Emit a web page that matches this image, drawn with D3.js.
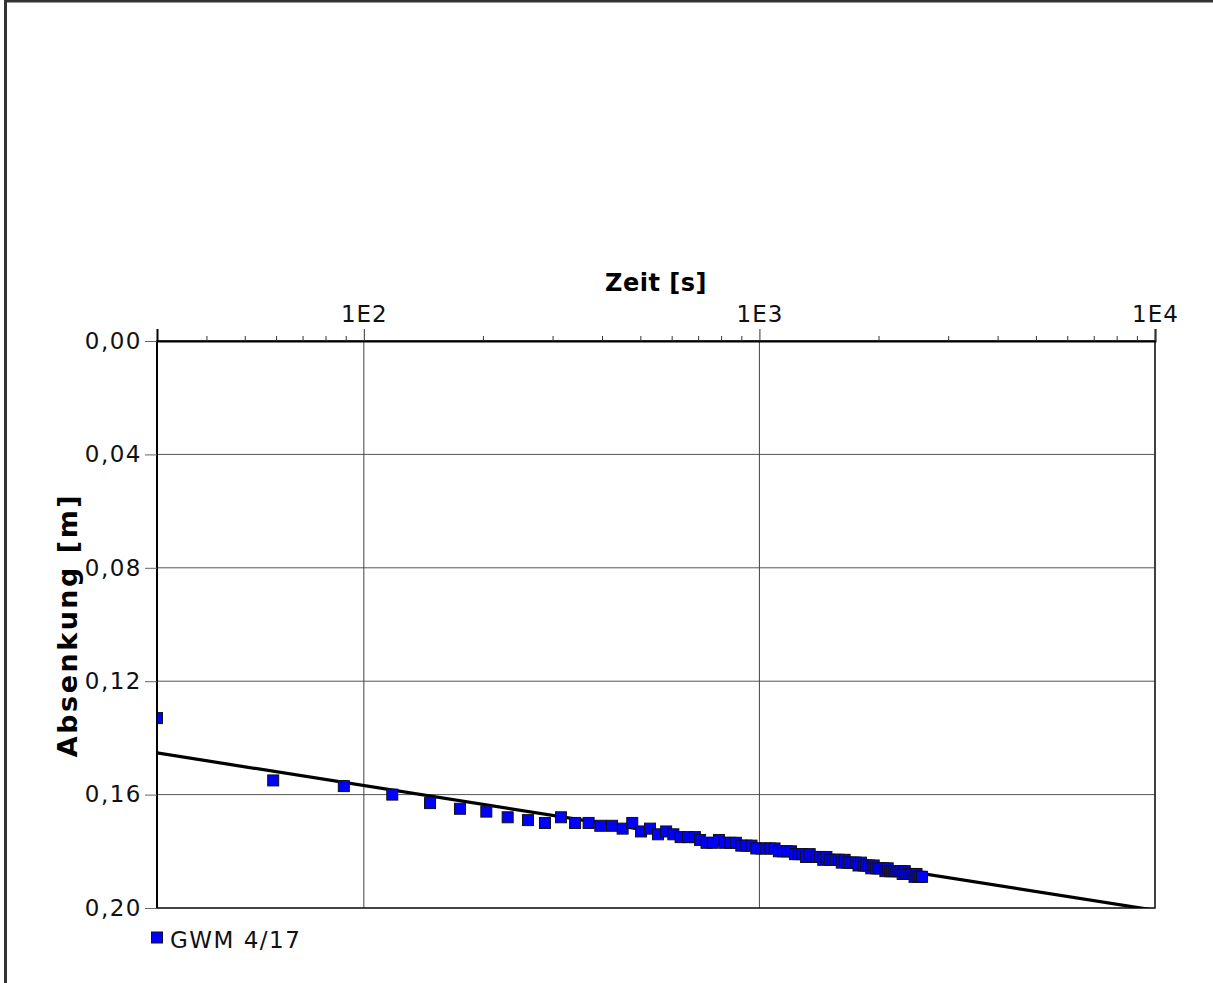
<!DOCTYPE html>
<html>
<head>
<meta charset="utf-8">
<script src="https://cdnjs.cloudflare.com/ajax/libs/d3/7.8.5/d3.min.js"></script>
<style>
  html, body { margin: 0; padding: 0; background: #fff; }
  svg { display: block; }
</style>
</head>
<body>
<svg id="chart" width="1213" height="983"></svg>
<script>
// ---- data ----
const seriesName = "GWM 4/17";
const times = [30, 59, 89, 118, 147, 175, 204, 231, 260, 287, 315, 342, 370, 396, 424, 451, 477, 502, 529, 554,
  581, 606, 632, 660, 687, 708, 735, 762, 790, 817, 845, 872, 900, 927, 955, 982, 1010, 1037, 1065, 1092,
  1120, 1147, 1175, 1202, 1230, 1257, 1285, 1312, 1340, 1367, 1395, 1422, 1450, 1477, 1505, 1532, 1560, 1587, 1615, 1642,
  1670, 1697, 1725, 1752, 1780, 1807, 1835, 1862, 1890, 1917, 1945, 1972, 2000, 2027, 2055, 2082, 2110, 2137, 2165, 2192,
  2220, 2247, 2275, 2302, 2330, 2357, 2385, 2412, 2440, 2467, 2495, 2522, 2550, 2577];
const drawdown = [0.133, 0.155, 0.157, 0.160, 0.163, 0.165, 0.166, 0.168, 0.169, 0.170, 0.168, 0.170, 0.170, 0.171, 0.171, 0.172, 0.170, 0.173, 0.172, 0.174,
  0.173, 0.174, 0.175, 0.175, 0.175, 0.176, 0.177, 0.177, 0.176, 0.177, 0.177, 0.177, 0.178, 0.178, 0.178, 0.179, 0.179, 0.179, 0.179, 0.179,
  0.180, 0.180, 0.180, 0.180, 0.181, 0.181, 0.181, 0.182, 0.181, 0.182, 0.182, 0.182, 0.183, 0.182, 0.183, 0.183, 0.183, 0.183, 0.184, 0.183,
  0.184, 0.184, 0.184, 0.184, 0.185, 0.184, 0.185, 0.185, 0.185, 0.186, 0.185, 0.186, 0.186, 0.186, 0.186, 0.187, 0.186, 0.187, 0.187, 0.187,
  0.187, 0.187, 0.187, 0.188, 0.187, 0.188, 0.188, 0.188, 0.188, 0.189, 0.188, 0.189, 0.189, 0.189];
// straight-line fit shown in the chart (end points)
const fitTimes = [30, 10000];
const fitDrawdown = [0.1453, 0.2008];

const xDomain = [30, 10000];
const yDomain = [0, 0.20];
const xMajorTicks = [100, 1000, 10000];
const xMajorLabels = ["1E2", "1E3", "1E4"];
const xMinorTicks = [40, 50, 60, 70, 80, 90, 200, 300, 400, 500, 600, 700, 800, 900,
  2000, 3000, 4000, 5000, 6000, 7000, 8000, 9000];
const yTicks = [0.00, 0.04, 0.08, 0.12, 0.16, 0.20];
const xTitle = "Zeit [s]";
const yTitle = "Absenkung [m]";

// ---- layout ----
const plot = { left: 157, right: 1155, top: 341, bottom: 908 };
const FONT = "'DejaVu Sans', Verdana, sans-serif";
const svg = d3.select("#chart");

// outer frame (only left and top edges visible)
svg.append("rect").attr("x", 5.5).attr("y", 1).attr("width", 1400).attr("height", 1400)
  .attr("fill", "none").attr("stroke", "#333").attr("stroke-width", 3);

const x = d3.scaleLog().domain(xDomain).range([plot.left, plot.right]);
const y = d3.scaleLinear().domain(yDomain).range([plot.top, plot.bottom]);

svg.append("defs").append("clipPath").attr("id", "clip")
  .append("rect").attr("x", plot.left).attr("y", plot.top)
  .attr("width", plot.right - plot.left).attr("height", plot.bottom - plot.top);

// grid
const grid = svg.append("g");
grid.selectAll("line.h").data(yTicks).join("line")
  .attr("x1", plot.left).attr("x2", plot.right)
  .attr("y1", d => y(d)).attr("y2", d => y(d))
  .attr("stroke", "#555").attr("stroke-width", 1);
grid.selectAll("line.v").data(xMajorTicks).join("line")
  .attr("x1", d => x(d)).attr("x2", d => x(d))
  .attr("y1", plot.top).attr("y2", plot.bottom)
  .attr("stroke", "#444").attr("stroke-width", 1);

// plot border
svg.append("rect").attr("x", plot.left).attr("y", plot.top)
  .attr("width", plot.right - plot.left).attr("height", plot.bottom - plot.top)
  .attr("fill", "none").attr("stroke", "#222").attr("stroke-width", 1.5);

const clipped = svg.append("g").attr("clip-path", "url(#clip)");

// fit line
const fitPts = fitTimes.map((t, i) => [t, fitDrawdown[i]]);
clipped.append("path").datum(fitPts)
  .attr("d", d3.line().x(d => x(d[0])).y(d => y(d[1])))
  .attr("fill", "none").attr("stroke", "#000").attr("stroke-width", 3.2);

// points
const S = 11;
const pts = times.map((t, i) => [t, drawdown[i]]);
clipped.selectAll("rect.pt").data(pts).join("rect")
  .attr("class", "pt")
  .attr("x", d => x(d[0]) - S / 2).attr("y", d => y(d[1]) - S / 2)
  .attr("width", S).attr("height", S)
  .attr("fill", "#0000ff").attr("stroke", "#111").attr("stroke-width", 1);

// left axis line
svg.append("line").attr("x1", plot.left).attr("x2", plot.left)
  .attr("y1", plot.top).attr("y2", plot.bottom)
  .attr("stroke", "#000").attr("stroke-width", 2);

// y axis
const yAxis = d3.axisLeft(y).tickValues(yTicks).tickSize(12).tickPadding(3)
  .tickFormat(d => d.toFixed(2).replace(".", ","));
const gy = svg.append("g").attr("transform", `translate(${plot.left},0)`).call(yAxis);
gy.select(".domain").remove();
gy.selectAll(".tick line").attr("stroke", "#666");
gy.selectAll(".tick text").attr("font-family", FONT).attr("font-size", 23)
  .attr("letter-spacing", 1.5).attr("fill", "#111");

// top axis (major)
const xAxis = d3.axisTop(x).tickValues(xMajorTicks).tickSize(12).tickPadding(7)
  .tickFormat((d, i) => xMajorLabels[i]);
const gx = svg.append("g").attr("transform", `translate(0,${plot.top})`).call(xAxis);
gx.select(".domain").attr("stroke", "#000").attr("stroke-width", 2);
gx.selectAll(".tick line").attr("stroke", "#333");
gx.selectAll(".tick text").attr("font-family", FONT).attr("font-size", 23)
  .attr("letter-spacing", 1).attr("fill", "#111");
// minor ticks
const xMinor = d3.axisTop(x).tickValues(xMinorTicks).tickSize(5).tickFormat("");
const gxm = svg.append("g").attr("transform", `translate(0,${plot.top})`).call(xMinor);
gxm.select(".domain").remove();
gxm.selectAll(".tick line").attr("stroke", "#333");

// titles
svg.append("text").attr("x", 656).attr("y", 291)
  .attr("text-anchor", "middle").attr("font-family", FONT).attr("font-weight", "bold")
  .attr("font-size", 24).attr("letter-spacing", 0.5).text(xTitle);
svg.append("text").attr("transform", `translate(77,625) rotate(-90)`)
  .attr("text-anchor", "middle").attr("font-family", FONT).attr("font-weight", "bold")
  .attr("font-size", 27).attr("letter-spacing", 2.5).text(yTitle);

// legend
svg.append("rect").attr("x", 151.5).attr("y", 932).attr("width", 11).attr("height", 11)
  .attr("fill", "#0000ff").attr("stroke", "#111").attr("stroke-width", 1);
svg.append("text").attr("x", 170).attr("y", 948).attr("font-family", FONT)
  .attr("font-size", 23).attr("letter-spacing", 1.5).attr("fill", "#111").text(seriesName);
</script>
</body>
</html>
